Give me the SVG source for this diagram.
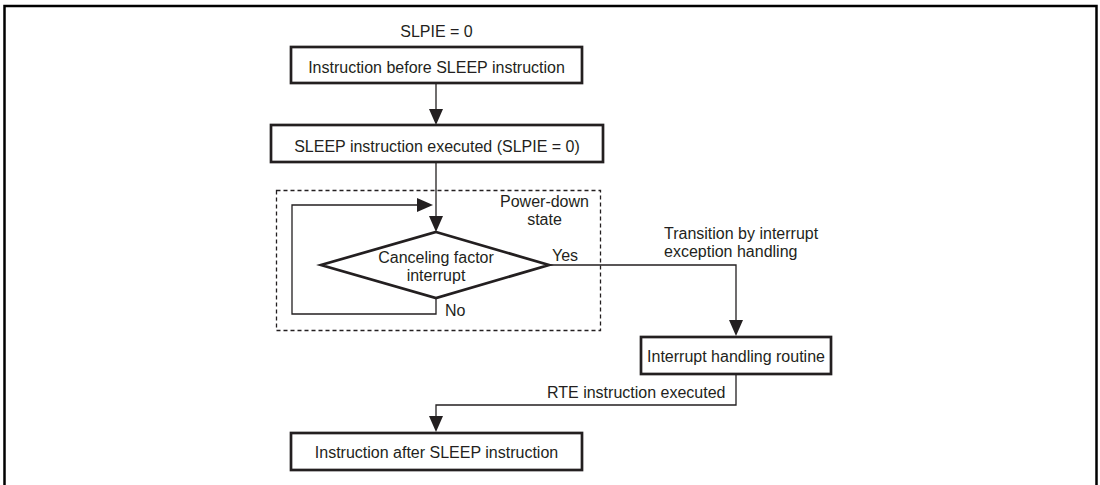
<svg xmlns="http://www.w3.org/2000/svg" width="1100" height="485" viewBox="0 0 1100 485">
<defs>
<style>
text{font-family:"Liberation Sans",Arial,sans-serif;font-size:16px;fill:#231f20}
.c{text-anchor:middle}
.box{fill:#fff;stroke:#231f20;stroke-width:2.7}
.ln{fill:none;stroke:#231f20;stroke-width:1.3}
.dash{fill:none;stroke:#231f20;stroke-width:1.3;stroke-dasharray:4 3}
.ah{fill:#231f20}
</style>
</defs>
<rect width="1100" height="485" fill="#fff"/>
<path d="M4.5 485 V6 H1096.5 V485" fill="none" stroke="#000" stroke-width="2.5"/>

<g id="power-down-state">
<rect class="dash" x="276.5" y="190.5" width="324" height="140"/>
<text class="c" x="544.5" y="206.5">Power-down</text>
<text class="c" x="544.5" y="225">state</text>
</g>

<g id="connectors">
<line class="ln" x1="436" y1="83" x2="436" y2="110"/>
<polygon class="ah" points="429,109 443,109 436,125"/>
<line class="ln" x1="436" y1="162" x2="436" y2="217"/>
<polygon class="ah" points="429,216 443,216 436,232"/>
<path class="ln" d="M436 298 V314 H292 V205 H418"/>
<polygon class="ah" points="417,198 417,212 433,205"/>
<path class="ln" d="M549 265 H736 V321"/>
<polygon class="ah" points="729,320 743,320 736,336"/>
<path class="ln" d="M736 374 V405 H436 V417"/>
<polygon class="ah" points="429,416 443,416 436,432"/>
<text x="552" y="260.5">Yes</text>
<text x="445" y="316">No</text>
<text x="664" y="239">Transition by interrupt</text>
<text x="664" y="257">exception handling</text>
<text x="547" y="398">RTE instruction executed</text>
</g>

<g id="slpie-label">
<text class="c" x="436.5" y="36.5">SLPIE = 0</text>
</g>

<g id="before-sleep">
<rect class="box" x="291" y="47" width="291" height="36"/>
<text class="c" x="436.5" y="72.5">Instruction before SLEEP instruction</text>
</g>

<g id="sleep-executed">
<rect class="box" x="271" y="125" width="332" height="37"/>
<text class="c" x="437" y="151.5">SLEEP instruction executed (SLPIE = 0)</text>
</g>

<g id="canceling-factor">
<polygon points="436,232 549,265 436,298 321,265" fill="#fff" stroke="#231f20" stroke-width="2.7" stroke-linejoin="miter"/>
<text class="c" x="436" y="262.5">Canceling factor</text>
<text class="c" x="436" y="281">interrupt</text>
</g>

<g id="interrupt-routine">
<rect class="box" x="641" y="337" width="190" height="37"/>
<text class="c" x="736" y="362">Interrupt handling routine</text>
</g>

<g id="after-sleep">
<rect class="box" x="291" y="433" width="291" height="37"/>
<text class="c" x="436.5" y="458">Instruction after SLEEP instruction</text>
</g>
</svg>
